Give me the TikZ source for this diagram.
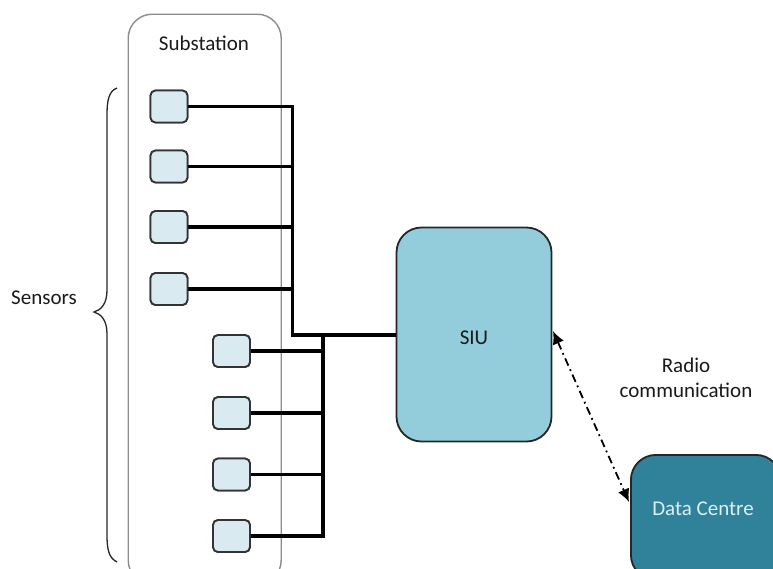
\documentclass[tikz,border=0pt]{standalone}
\usepackage{fontspec}
\setmainfont{Carlito}
\usetikzlibrary{arrows.meta}
\definecolor{sensfill}{HTML}{D9EBF1}
\definecolor{siufill}{HTML}{93CDDB}
\definecolor{dcfill}{HTML}{2F8299}
\definecolor{dctext}{HTML}{DDEFF4}
\definecolor{txt}{HTML}{1A1A1A}
\tikzset{
  sensorbox/.style={draw=black!80, line width=1.8pt, fill=sensfill, rounded corners=5pt, minimum width=37pt, minimum height=32pt, inner sep=0pt},
  wire/.style={line width=3.2pt, black},
  lbl/.style={font=\fontsize{21}{25}\selectfont, text=txt, align=center, inner sep=0pt},
}
\begin{document}
\begin{tikzpicture}[x=1pt,y=-1pt]
\useasboundingbox (0,0) rectangle (773,568);
\begin{scope}
\clip (0,0) rectangle (773,568);
% substation
\node[draw=black!45, line width=1.4pt, rounded corners=24pt, minimum width=153pt, minimum height=570pt, anchor=north west, inner sep=0pt] (sub) at (127.5,13.5) {};
\node[lbl] (subl) at (204,43) {Substation};
% sensors
\foreach \i/\y in {1/106.5,2/166.5,3/227,4/289}{
  \node[sensorbox] (a\i) at (169,\y) {};
}
\foreach \i/\y in {1/351,2/413,3/474.5,4/536}{
  \node[sensorbox] (b\i) at (231.5,\y) {};
}
% SIU
\node[draw=black!85, line width=1.8pt, fill=siufill, rounded corners=25pt, minimum width=155pt, minimum height=214pt, inner sep=0pt] (siu) at (474,334.5) {};
\node[lbl] (siul) at (474,338) {SIU};
% Data centre
\node[draw=black!85, line width=1.8pt, fill=dcfill, rounded corners=25pt, minimum width=150pt, minimum height=125pt, anchor=north west, inner sep=0pt] (dc) at (630,454) {};
\node[lbl, text=dctext] (dcl) at (703,509) {Data Centre};
% junction coordinates
\coordinate (ja) at (292.5,335);
\coordinate (jb) at (323,335);
% wires top column
\draw[wire, line cap=rect] (a1.east) -| (ja);
\foreach \i in {2,3,4}{ \draw[wire] (a\i.east) -- (a\i.east -| ja); }
\draw[wire] (ja) -- (siu.west |- ja);
% wires bottom column
\foreach \i in {1,2,3}{ \draw[wire] (b\i.east) -- (b\i.east -| jb); }
\draw[wire, line cap=rect] (b4.east) -| (jb);
% redraw sensors on top
\foreach \i in {1,2,3,4}{ \node[sensorbox] at (a\i) {}; \node[sensorbox] at (b\i) {}; }
% radio link
\coordinate (r1) at (553,331);
\coordinate (r2) at (629,502);
\draw[line width=1.8pt, dash pattern=on 8pt off 4pt on 1.8pt off 4pt, {Latex[length=13pt,width=12pt]}-{Latex[length=13pt,width=12pt]}] (r1) -- (r2);
\node[lbl] (radio) at (686,378) {Radio\\communication};
% brace
\coordinate (bt) at (117,88);
\coordinate (bm) at (94,312);
\coordinate (bb) at (117,562);
\draw[line width=1.3pt, black!85] (bt) .. controls (109,91) and (107,100) .. (107,115) -- (107,290) .. controls (107,304) and (101,310) .. (bm) .. controls (101,314) and (107,320) .. (107,334) -- (107,535) .. controls (107,550) and (109,558) .. (bb);
\node[lbl] (sens) at (44,298) {Sensors};
\end{scope}
\end{tikzpicture}
\end{document}
